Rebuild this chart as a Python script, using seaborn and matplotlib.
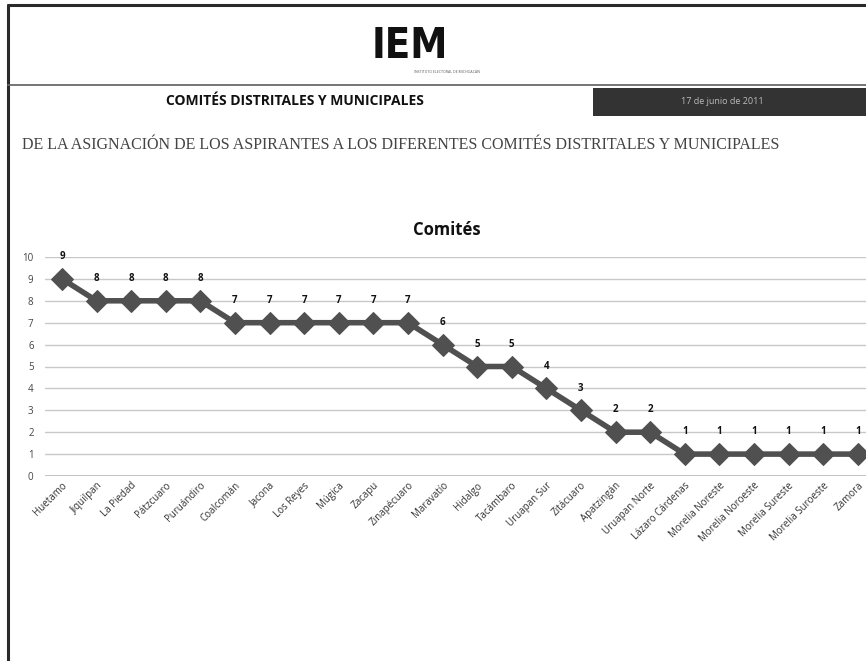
import pandas as pd
import numpy as np
import matplotlib.pyplot as plt
import seaborn as sns
from matplotlib.patches import Rectangle
from matplotlib.lines import Line2D

# Chart data
municipios = ['Huetamo', 'Jiquilpan', 'La Piedad', 'Pátzcuaro', 'Puruándiro',
              'Coalcomán', 'Jacona', 'Los Reyes', 'Múgica', 'Zacapu',
              'Zinapécuaro', 'Maravatío', 'Hidalgo', 'Tacámbaro', 'Uruapan Sur',
              'Zitácuaro', 'Apatzingán', 'Uruapan Norte', 'Lázaro Cárdenas',
              'Morelia Noreste', 'Morelia Noroeste', 'Morelia Sureste',
              'Morelia Suroeste', 'Zamora']
comites = [9, 8, 8, 8, 8, 7, 7, 7, 7, 7, 7, 6, 5, 5, 4, 3, 2, 2, 1, 1, 1, 1, 1, 1]
y_ticks = list(range(0, 11))

header_title = 'COMITÉS DISTRITALES Y MUNICIPALES'
header_date = '17 de junio de 2011'
subtitle = ('DE LA ASIGNACIÓN DE LOS ASPIRANTES A LOS DIFERENTES COMITÉS '
            'DISTRITALES Y MUNICIPALES')
chart_title = 'Comités'

sns.set_style('white')
plt.rcParams['font.family'] = ['Open Sans', 'DejaVu Sans']

W, H = 866, 661
fig = plt.figure(figsize=(W / 100, H / 100), dpi=100)
fig.patch.set_facecolor('white')


def fx(px):
    return px / W


def fy(py):
    return 1 - py / H


# page frame and header
fig.add_artist(Line2D([fx(8), fx(8)], [fy(5), 0], color='#2a2a2a', lw=2.2))
fig.add_artist(Line2D([fx(8), 1], [fy(5), fy(5)], color='#2a2a2a', lw=2.2))
fig.add_artist(Line2D([fx(8), 1], [fy(85), fy(85)], color='#6a6a6a', lw=1.3))
fig.add_artist(Rectangle((fx(593), fy(116)), 1 - fx(593), fy(88) - fy(116),
                         facecolor='#333333', edgecolor='none'))
fig.text(fx(722), fy(102), header_date, color='#bbbbbb', fontsize=6.5,
         ha='center', va='center')
fig.text(fx(295), fy(101), header_title, color='#111111', fontsize=10,
         fontweight='bold', ha='center', va='center')
fig.text(fx(410), fy(46), 'IEM', color='#111111', fontsize=30,
         fontweight='bold', ha='center', va='center', fontstretch='condensed',
         family=['Liberation Sans Narrow', 'DejaVu Sans'])
fig.text(fx(447), fy(72), 'INSTITUTO ELECTORAL DE MICHOACÁN', color='#555555',
         fontsize=2.5, ha='center', va='center')
fig.text(fx(22), fy(145), subtitle, color='#444444', fontsize=11.5,
         ha='left', va='center', family=['Liberation Serif', 'DejaVu Serif'])
fig.text(fx(447), fy(230), chart_title, color='#111111', fontsize=12,
         fontweight='bold', ha='center', va='center')

# chart area
ax = fig.add_axes([fx(44.7), fy(476), fx(875) - fx(44.7), fy(257) - fy(476)])
ax.set_facecolor('none')

df = pd.DataFrame({'Municipio': municipios, 'Comites': comites})
df['pos'] = np.arange(len(df))

sns.lineplot(data=df, x='pos', y='Comites', ax=ax, color='#505050',
             linewidth=4, marker='D', markersize=11, markeredgecolor='#505050',
             zorder=3)

for _, row in df.iterrows():
    ax.annotate(str(row['Comites']), (row['pos'], row['Comites']),
                xytext=(0, 16), textcoords='offset points', ha='center',
                va='center', fontsize=7, fontweight='bold', color='#111111')

ax.set_xlim(-0.5, len(df) - 0.5)
ax.set_ylim(0, 10)
ax.set_yticks(y_ticks)
ax.set_xticks(df['pos'])
ax.set_xticklabels(municipios, rotation=45, ha='right', rotation_mode='anchor',
                   fontsize=7, color='#333333')
ax.tick_params(axis='x', length=0, pad=3)
ax.tick_params(axis='y', length=0, pad=8, labelsize=7, labelcolor='#444444')
ax.grid(axis='y', color='#c8c8c8', lw=1)
ax.set_xlabel('')
ax.set_ylabel('')
for s in ax.spines.values():
    s.set_visible(False)
ax.axhline(0, color='#bbbbbb', lw=1.2)

fig.savefig('out.png', dpi=100)
